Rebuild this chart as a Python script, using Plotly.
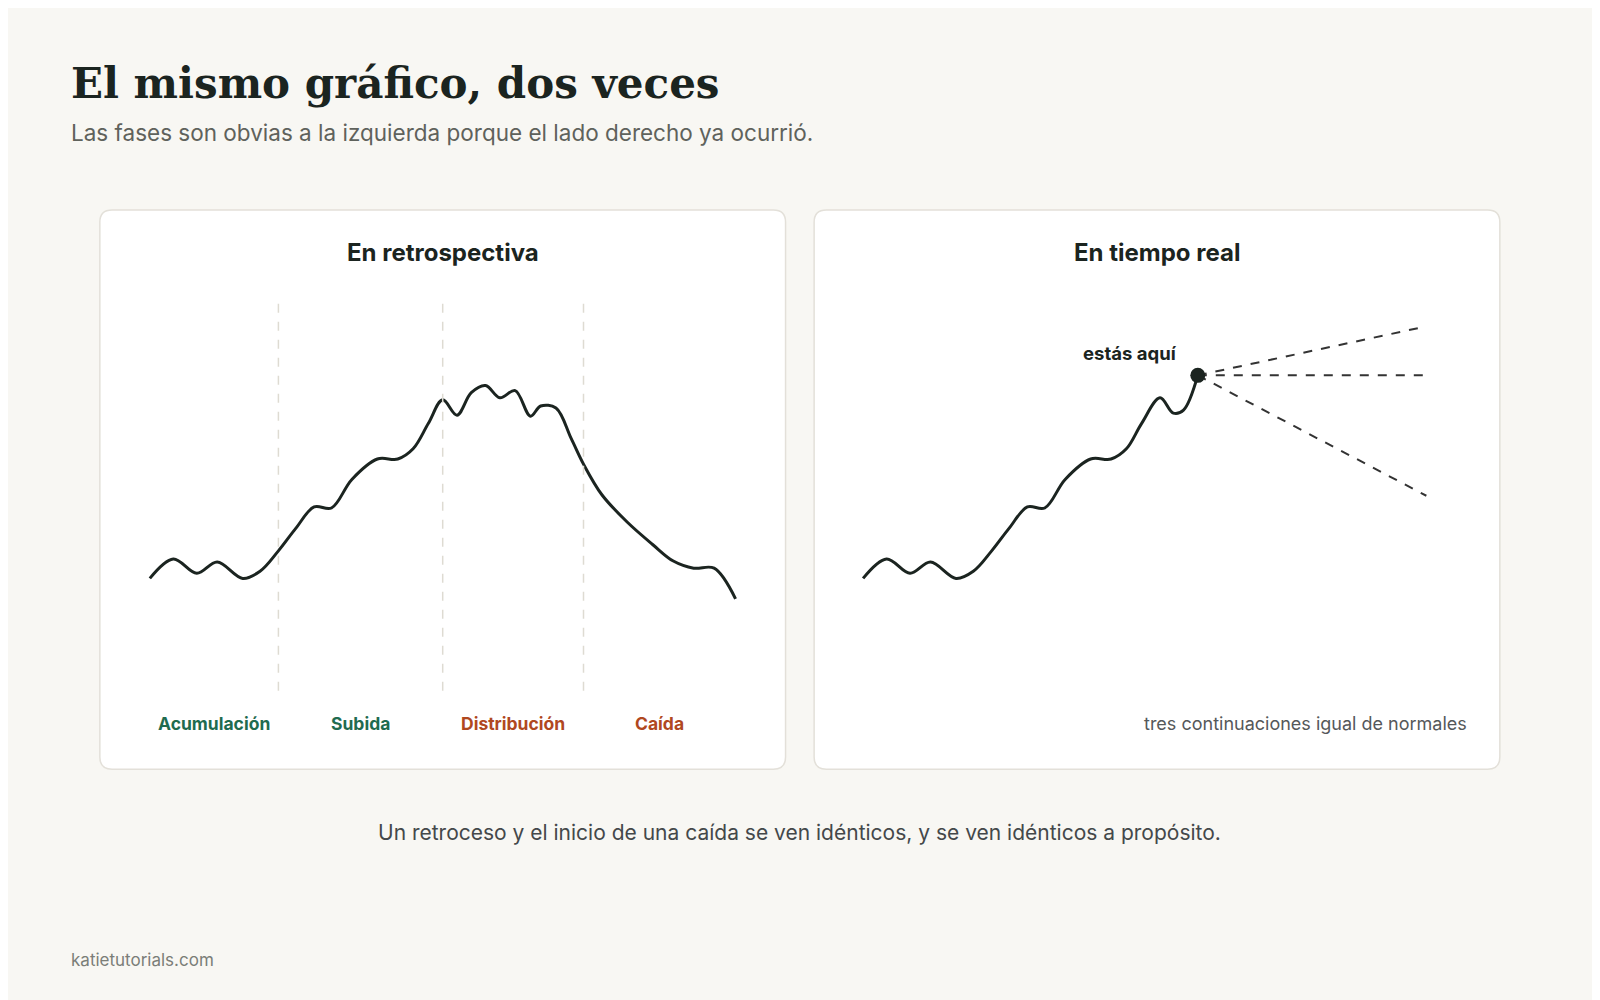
import plotly.graph_objects as go

W, H = 1568, 980
OFF = 8
# left curve (x, level)
left_x = [147,170,193,213,238,255,273,290,308,325,345,370,390,405,420,434,448,462,476,490,505,520,530,545,560,572,590,615,640,660,680,700,721]
left_y = [413,432,418,429,413,420,440,462,483,482,510,530,530,540,565,588,573,595,602,590,597,572,582,580,550,525,495,468,446,430,423,423,393]
right_x = [846,869,892,912,937,954,972,989,1007,1024,1044,1069,1089,1104,1119,1137,1150,1160,1174]
right_y = [413,432,418,429,413,420,440,462,483,482,510,530,530,540,565,590,575,578,612]
fan_end_x = 1398
fan_end_y = [660, 612, 494]
phase_bounds = [273, 434, 572]
phase_names = ["Acumulación", "Subida", "Distribución", "Caída"]
phase_x = [210, 353, 503, 646]
phase_colors = ["#1f6b4f", "#1f6b4f", "#b0481f", "#b0481f"]

FONT = "Inter"
ink = "#1b2420"
fig = go.Figure()
px = lambda x: (x - OFF) / W
py = lambda y: 1 - (y - OFF) / H

fig.add_trace(go.Scatter(x=left_x, y=left_y, mode="lines", line=dict(color=ink, width=3, shape="spline", smoothing=1.0), xaxis="x", yaxis="y", hoverinfo="skip"))
fig.add_trace(go.Scatter(x=right_x, y=right_y, mode="lines", line=dict(color=ink, width=3, shape="spline", smoothing=1.0), xaxis="x2", yaxis="y2", hoverinfo="skip"))
for ey in fan_end_y:
    fig.add_trace(go.Scatter(x=[right_x[-1], fan_end_x], y=[right_y[-1], ey], mode="lines", line=dict(color="#333", width=2, dash="dash"), xaxis="x2", yaxis="y2", hoverinfo="skip"))
fig.add_trace(go.Scatter(x=[right_x[-1]], y=[right_y[-1]], mode="markers", marker=dict(color=ink, size=15), xaxis="x2", yaxis="y2", hoverinfo="skip"))

ax = dict(showgrid=False, zeroline=False, showticklabels=False, visible=False, fixedrange=True)
fig.update_layout(
    width=1600, height=1000, margin=dict(l=0, r=0, t=0, b=0), autosize=False,
    paper_bgcolor="#f8f7f3", plot_bgcolor="rgba(0,0,0,0)", showlegend=False,
    xaxis=dict(domain=[px(100), px(770)], range=[100, 770], **ax),
    yaxis=dict(domain=[py(755), py(207)], range=[225, 773], **ax),
    xaxis2=dict(domain=[px(799), px(1469)], range=[799, 1469], **ax),
    yaxis2=dict(domain=[py(755), py(207)], range=[225, 773], **ax),
)

def rrect(x0, y0, x1, y1, r):
    X0, X1 = px(x0), px(x1)
    Y0, Y1 = py(y1), py(y0)
    rx, ry = r / W, r / H
    return (f"M {X0+rx},{Y0} L {X1-rx},{Y0} Q {X1},{Y0} {X1},{Y0+ry} L {X1},{Y1-ry} Q {X1},{Y1} {X1-rx},{Y1} "
            f"L {X0+rx},{Y1} Q {X0},{Y1} {X0},{Y1-ry} L {X0},{Y0+ry} Q {X0},{Y0} {X0+rx},{Y0} Z")

shapes = []
for x0 in (98, 798):
    shapes.append(dict(type="path", path=rrect(x0, 206, x0 + 672, 754, 12), xref="paper", yref="paper",
                       fillcolor="white", line=dict(color="#e3e0d9", width=1.5), layer="below"))
for b in phase_bounds:
    shapes.append(dict(type="line", x0=b, x1=b, xref="x", yref="y", y0=980 - 677, y1=980 - 293,
                       line=dict(color="#dedbd2", width=1.5, dash="dash")))
fig.update_layout(shapes=shapes)

ann = []
def t(x, y, s, size, color, anchor="left", family=FONT, bold=False):
    ann.append(dict(x=px(x), y=py(y), xref="paper", yref="paper", text=(f"<b>{s}</b>" if bold else s), showarrow=False,
                    xanchor=anchor, yanchor="middle", font=dict(family=family, size=size, color=color)))
t(68, 82, "El mismo gráfico, dos veces", 42, ink, family="DejaVu Serif", bold=True)
t(68, 130, "Las fases son obvias a la izquierda porque el lado derecho ya ocurrió.", 22.5, "#5f625c")
t(434, 248, "En retrospectiva", 24, ink, "center", bold=True)
t(1134, 248, "En tiempo real", 24, ink, "center", bold=True)
for n, x, c in zip(phase_names, phase_x, phase_colors):
    t(x, 709, n, 17.5, c, "center", bold=True)
t(1108, 346, "estás aquí", 18.5, ink, "center", bold=True)
t(1440, 709, "tres continuaciones igual de normales", 18, "#55585a", "right")
t(784, 816, "Un retroceso y el inicio de una caída se ven idénticos, y se ven idénticos a propósito.", 21, "#44484a", "center")
t(68, 941, "katietutorials.com", 17, "#7b7e78")
fig.update_layout(annotations=ann)
fig.write_html("out.html")
